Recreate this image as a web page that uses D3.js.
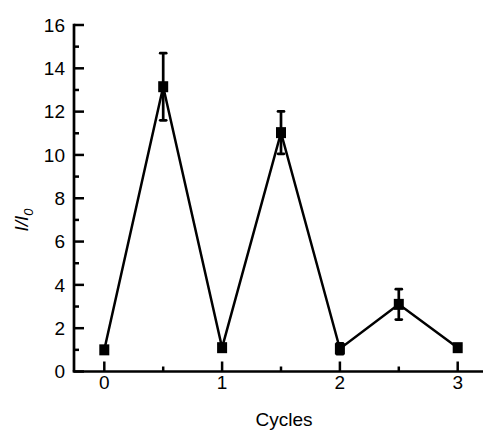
<!DOCTYPE html>
<html><head><meta charset="utf-8">
<script src="https://cdn.jsdelivr.net/npm/d3@7"></script>
<style>body{margin:0;background:#fff}svg{display:block}text{font-family:"Liberation Sans",Arial,sans-serif}</style>
</head><body>
<script>
const cycles = [0, 0.5, 1, 1.5, 2, 2.5, 3];
const values = [1.0, 13.15, 1.1, 11.03, 1.05, 3.1, 1.1];
const errors = [0.0, 1.55, 0.15, 0.98, 0.25, 0.7, 0.1];
const xTicks = [0, 1, 2, 3];
const yTicks = [0, 2, 4, 6, 8, 10, 12, 14, 16];

const W = 483, H = 432;
const svg = d3.select("body").append("svg").attr("width", W).attr("height", H);
const x = d3.scaleLinear().domain([0, 3]).range([104.3, 457.7]);
const y = d3.scaleLinear().domain([0, 16]).range([371.5, 25]);
const x0 = 74;

// y axis
const yAxis = svg.append("g");
yAxis.append("line").attr("x1", x0).attr("x2", x0).attr("y1", y(16) - 1.3).attr("y2", y(0)).attr("stroke", "#000").attr("stroke-width", 2.7);
d3.range(0, 17, 1).forEach(v => {
  const major = v % 2 === 0;
  yAxis.append("line").attr("x1", x0).attr("x2", x0 + (major ? 10 : 5))
    .attr("y1", y(v)).attr("y2", y(v)).attr("stroke", "#000").attr("stroke-width", 2.5);
});
yAxis.selectAll("text.yt").data(yTicks).enter().append("text")
  .attr("x", 65).attr("y", d => y(d)).attr("dy", "0.36em").attr("text-anchor", "end")
  .attr("font-size", 19).text(d => d);

// x axis
const xAxis = svg.append("g");
xAxis.append("line").attr("x1", x0 - 1.3).attr("x2", W).attr("y1", y(0)).attr("y2", y(0)).attr("stroke", "#000").attr("stroke-width", 2.7);
d3.range(0, 3.01, 0.5).forEach(v => {
  const major = Math.abs(v - Math.round(v)) < 1e-6;
  xAxis.append("line").attr("x1", x(v)).attr("x2", x(v))
    .attr("y1", y(0)).attr("y2", y(0) - (major ? 10 : 5)).attr("stroke", "#000").attr("stroke-width", 2.5);
});
xAxis.selectAll("text.xt").data(xTicks).enter().append("text")
  .attr("x", d => x(d)).attr("y", 389).attr("text-anchor", "middle")
  .attr("font-size", 19).text(d => d);

// labels
svg.append("text").attr("x", 284).attr("y", 426).attr("text-anchor", "middle").attr("font-size", 19).text("Cycles");
const yl = svg.append("text").attr("transform", "translate(28,220) rotate(-90)").attr("text-anchor", "middle")
  .attr("font-size", 19).attr("font-style", "italic");
yl.append("tspan").text("I/I");
yl.append("tspan").attr("font-size", 13).attr("dy", 5).text("0");

// line
const pts = cycles.map((c, i) => [c, values[i], errors[i]]);
svg.append("path").datum(pts)
  .attr("d", d3.line().x(d => x(d[0])).y(d => y(d[1])))
  .attr("fill", "none").attr("stroke", "#000").attr("stroke-width", 2.5);

// error bars
const eb = svg.append("g");
pts.filter(d => d[2] > 0).forEach(d => {
  eb.append("line").attr("x1", x(d[0])).attr("x2", x(d[0])).attr("y1", y(d[1] - d[2])).attr("y2", y(d[1] + d[2]))
    .attr("stroke", "#000").attr("stroke-width", 2.7);
  [d[1] - d[2], d[1] + d[2]].forEach(v => {
    eb.append("line").attr("x1", x(d[0]) - 3).attr("x2", x(d[0]) + 3).attr("y1", y(v)).attr("y2", y(v))
      .attr("stroke", "#000").attr("stroke-width", 2.7).attr("stroke-linecap", "round");
  });
});

// markers
svg.selectAll("rect.m").data(pts).enter().append("rect")
  .attr("x", d => x(d[0]) - 5).attr("y", d => y(d[1]) - 5.5).attr("width", 10).attr("height", 11).attr("fill", "#000");
</script>
</body></html>
